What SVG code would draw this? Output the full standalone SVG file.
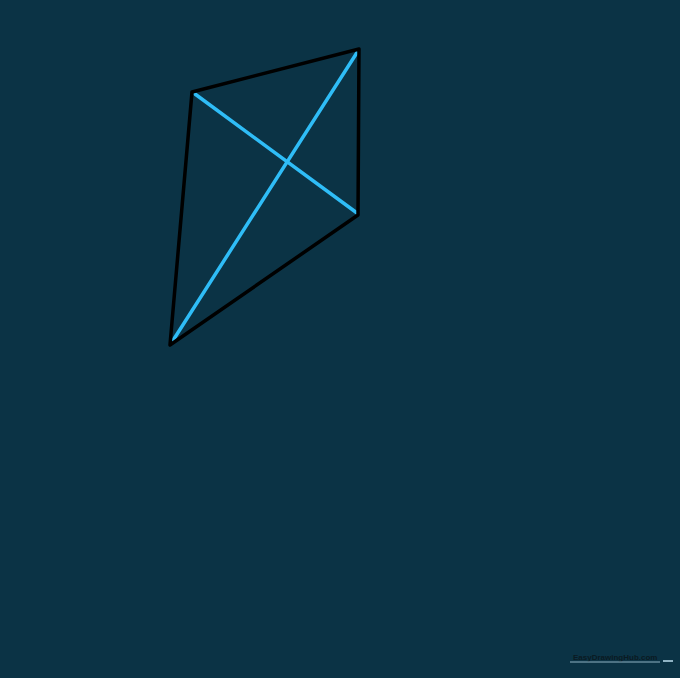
<svg xmlns="http://www.w3.org/2000/svg" width="680" height="678" viewBox="0 0 680 678">
<style>
.edge{stroke:#000;stroke-width:3.5;fill:none;stroke-linejoin:round;stroke-linecap:round}
.diag{stroke:#2fbdf7;stroke-width:3.5;fill:none;stroke-linecap:round}
.wm{font-family:"Liberation Sans",Arial,sans-serif;font-size:8px;fill:#0a1a22;font-weight:bold}
</style>
<rect width="680" height="678" fill="#0b3345"/>
<g id="connectors">
<line class="diag" x1="195" y1="94" x2="357" y2="213"/>
<line class="diag" x1="172" y1="342" x2="358" y2="51"/>
<polygon class="edge" points="192,92 359,49 358,215 170,345"/>
</g>
<g id="watermark">
<text class="wm" x="573" y="660">EasyDrawingHub.com</text>
<line x1="570" y1="662" x2="660" y2="662" stroke="#8fb3c4" stroke-width="1"/>
<rect x="663" y="660" width="10" height="2" fill="#8fb3c4"/>
</g>
</svg>
